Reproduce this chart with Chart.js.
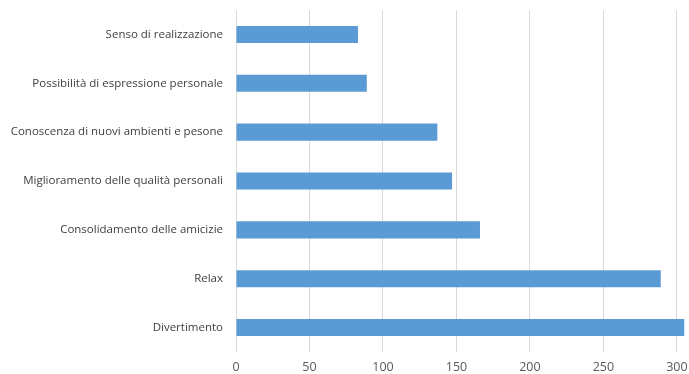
<!DOCTYPE html>
<html>
<head>
<meta charset="utf-8">
<script src="https://cdn.jsdelivr.net/npm/chart.js@4/dist/chart.umd.min.js"></script>
<style>
  html, body { margin: 0; padding: 0; background: #fff; }
  #wrap { width: 689px; height: 374px; position: relative; }
</style>
</head>
<body>
<div id="wrap"><canvas id="chart"></canvas></div>
<script>
// Motivations (top to bottom as drawn)
const categories = [
    'Senso di realizzazione',
    'Possibilità di espressione personale',
    'Conoscenza di nuovi ambienti e pesone',
    'Miglioramento delle qualità personali',
    'Consolidamento delle amicizie',
    'Relax',
    'Divertimento'
];
const values = [83, 89, 137, 147, 166, 289, 305];
const tickValues = [0, 50, 100, 150, 200, 250, 300];

const ctx = document.getElementById('chart').getContext('2d');
new Chart(ctx, {
    type: 'bar',
    data: {
        labels: categories,
        datasets: [{
            data: values,
            backgroundColor: '#5B9BD5',
            borderWidth: 0,
            categoryPercentage: 1,
            barPercentage: 0.35
        }]
    },
    options: {
        indexAxis: 'y',
        responsive: true,
        maintainAspectRatio: false,
        animation: false,
        layout: { padding: { top: 10, right: 4, left: 0, bottom: 0 } },
        plugins: { legend: { display: false }, tooltip: { enabled: false } },
        scales: {
            x: {
                min: 0,
                max: 305.5,
                afterBuildTicks: (scale) => {
                    scale.ticks = tickValues.map(v => ({ value: v }));
                },
                afterFit: (scale) => {
                    scale.height = 22;
                    scale.paddingLeft = 0;
                    scale.paddingRight = 0;
                },
                grid: { color: '#d9d9d9', lineWidth: 1, drawTicks: false },
                border: { display: false },
                ticks: {
                    color: '#595959',
                    font: { family: 'Open Sans', size: 12.5 },
                    padding: 8
                }
            },
            y: {
                grid: { display: false, drawTicks: false },
                border: { display: false },
                afterFit: (scale) => {
                    scale.width = 236;
                    scale.paddingTop = 0;
                    scale.paddingBottom = 0;
                },
                ticks: {
                    color: '#404040',
                    font: { family: 'Open Sans', size: 11.5 },
                    padding: 13
                }
            }
        }
    }
});
</script>
</body>
</html>
